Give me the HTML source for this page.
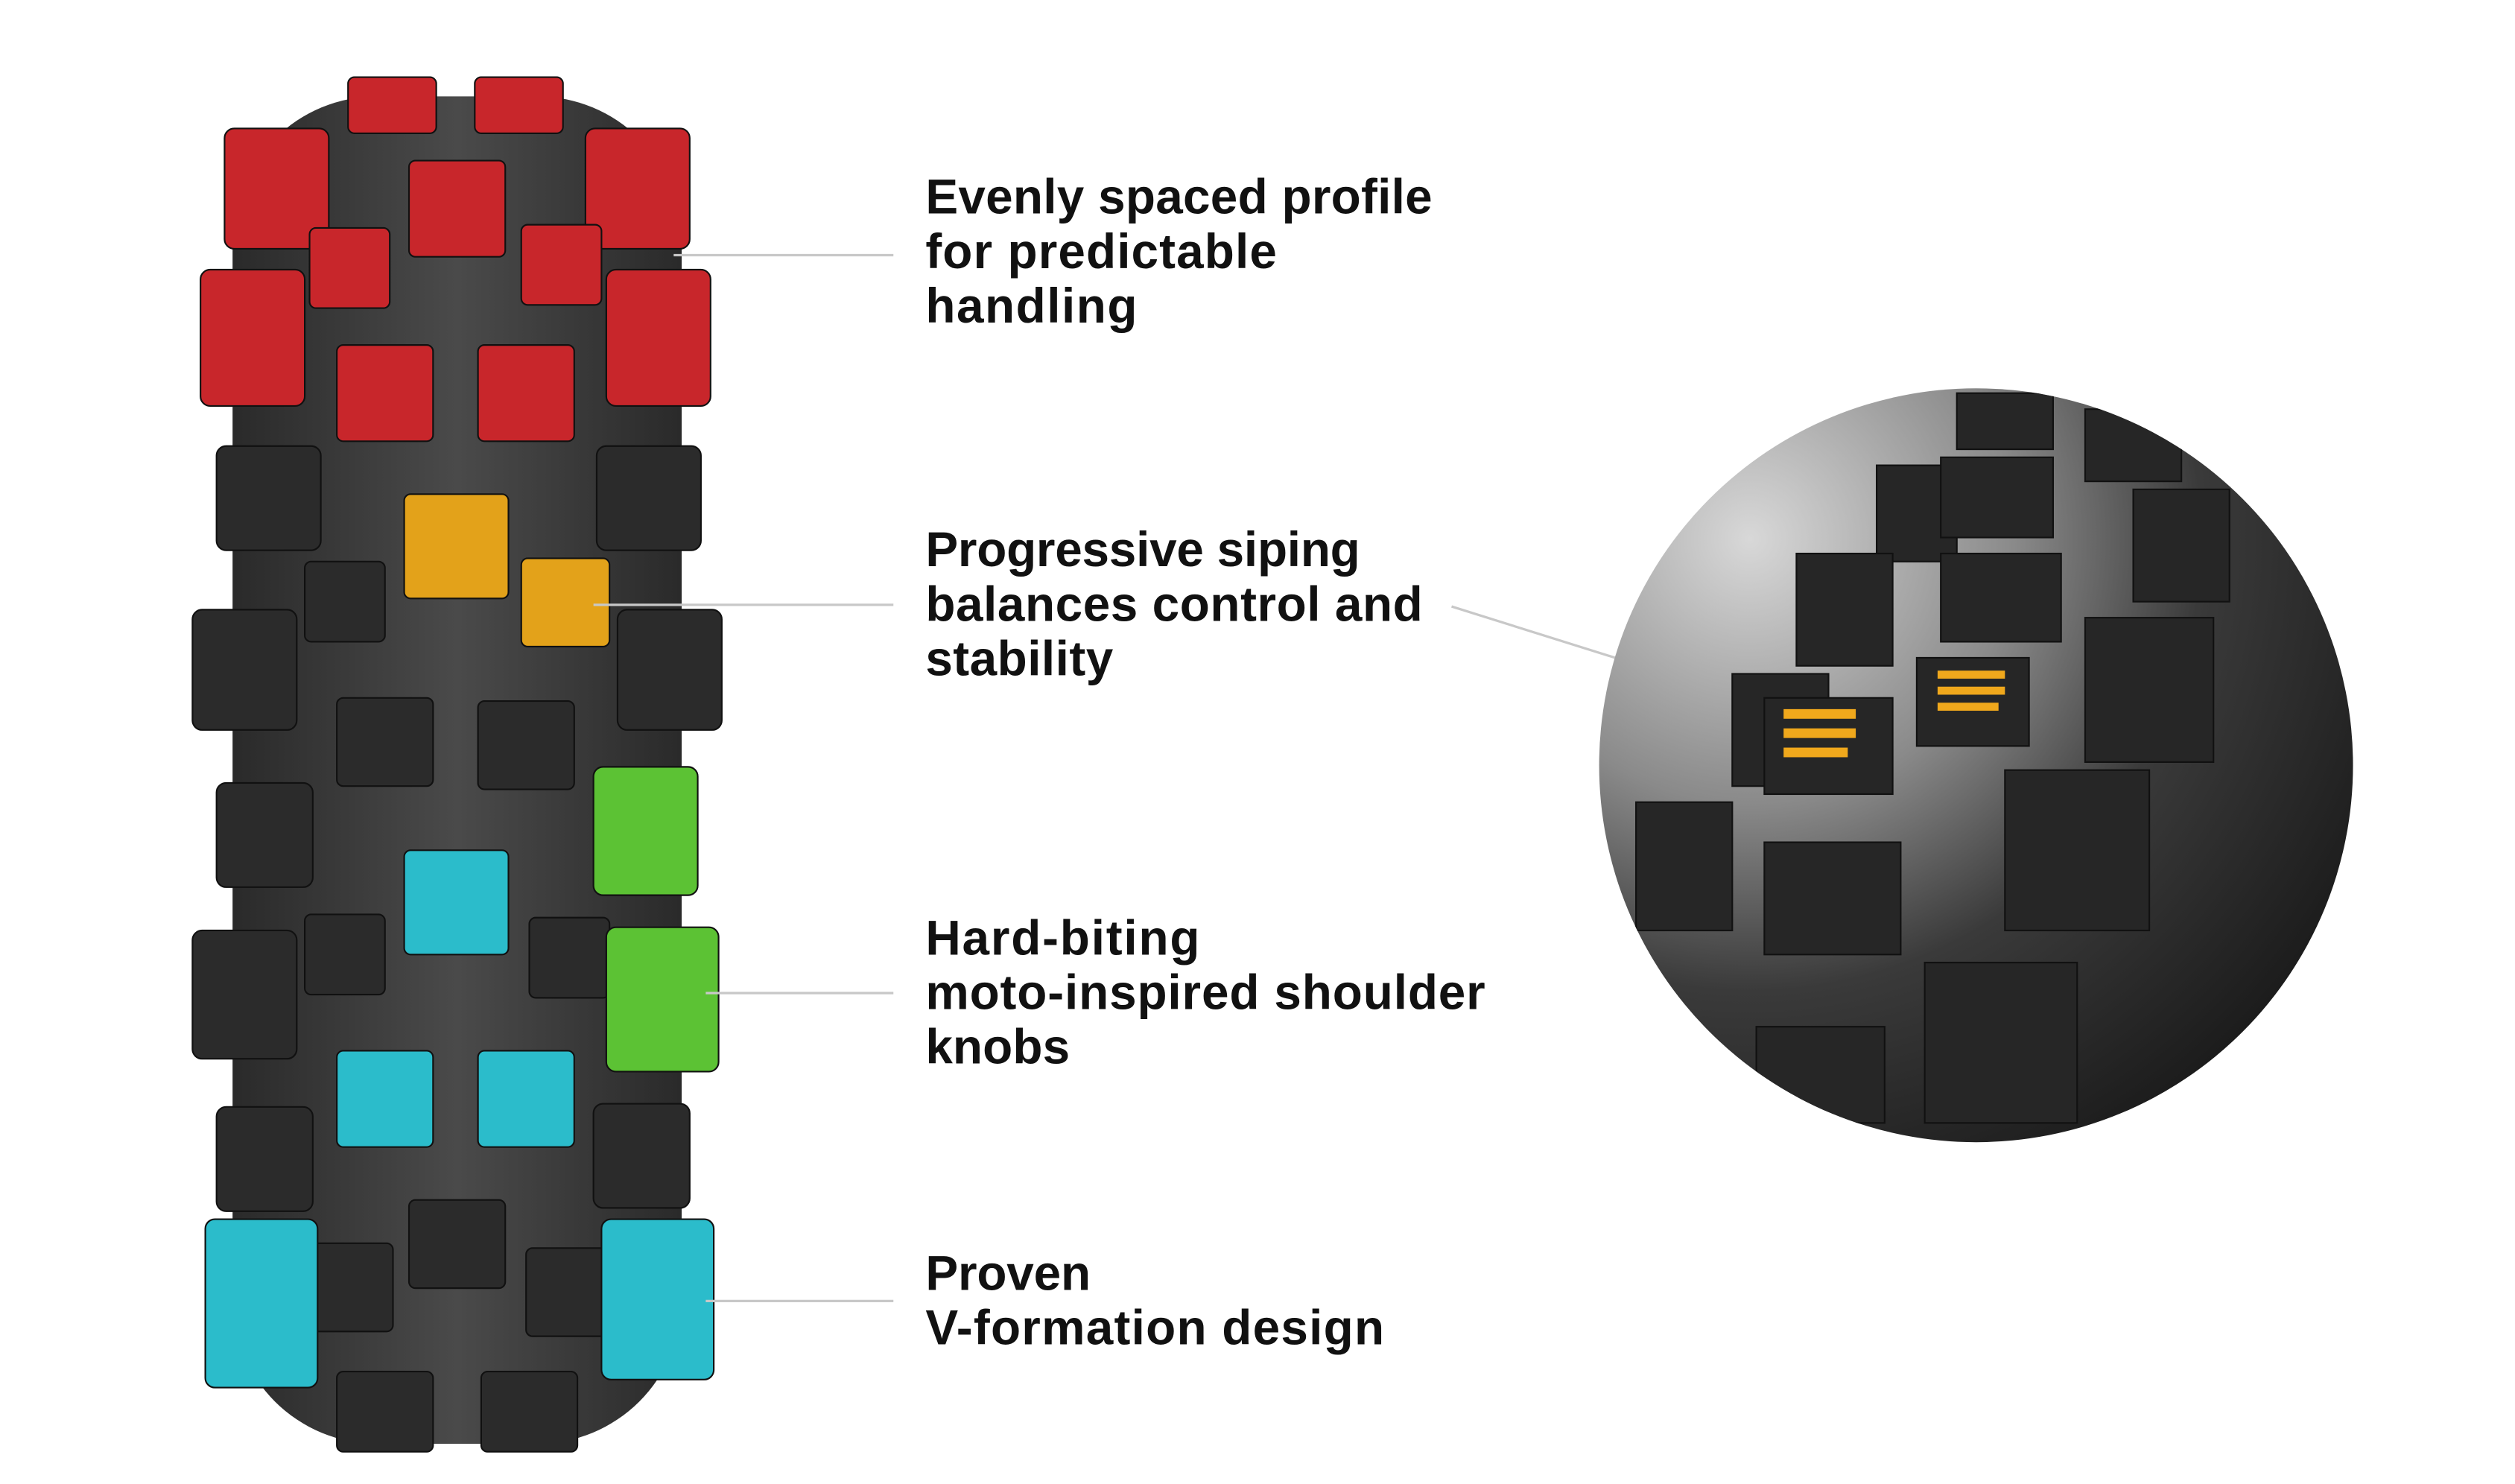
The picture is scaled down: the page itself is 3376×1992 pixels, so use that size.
<!DOCTYPE html>
<html><head><meta charset="utf-8"><style>
html,body{margin:0;padding:0;background:#fff;}
svg{display:block;}
text{font-family:"Liberation Sans",sans-serif;font-weight:bold;font-size:30.5px;fill:#111;}
</style></head><body>
<svg width="3376" height="1992" viewBox="0 0 1568 925" xmlns="http://www.w3.org/2000/svg">
<defs>
<radialGradient id="cg" cx="0.2" cy="0.2" r="1">
<stop offset="0" stop-color="#d8d8d8"/><stop offset="0.35" stop-color="#8a8a8a"/><stop offset="0.6" stop-color="#3a3a3a"/><stop offset="1" stop-color="#151515"/>
</radialGradient>
<linearGradient id="tg" x1="0" x2="1">
<stop offset="0" stop-color="#2a2a2a"/><stop offset="0.5" stop-color="#4a4a4a"/><stop offset="1" stop-color="#2a2a2a"/>
</linearGradient>
<clipPath id="cc"><circle cx="1232" cy="477" r="235"/></clipPath>
</defs>
<rect x="145" y="60" width="280" height="840" rx="90" fill="url(#tg)"/>
<g stroke="#111" stroke-width="1">
<g fill="#c8262b">
<rect x="217" y="48" width="55" height="35" rx="4"/><rect x="296" y="48" width="55" height="35" rx="4"/>
<rect x="140" y="80" width="65" height="75" rx="6"/><rect x="365" y="80" width="65" height="75" rx="6"/>
<rect x="255" y="100" width="60" height="60" rx="4"/>
<rect x="193" y="142" width="50" height="50" rx="4"/><rect x="325" y="140" width="50" height="50" rx="4"/>
<rect x="125" y="168" width="65" height="85" rx="6"/><rect x="378" y="168" width="65" height="85" rx="6"/>
<rect x="210" y="215" width="60" height="60" rx="4"/><rect x="298" y="215" width="60" height="60" rx="4"/>
</g>
<g fill="#2b2b2b">
<rect x="135" y="278" width="65" height="65" rx="6"/><rect x="372" y="278" width="65" height="65" rx="6"/>
<rect x="190" y="350" width="50" height="50" rx="4"/>
<rect x="120" y="380" width="65" height="75" rx="6"/><rect x="385" y="380" width="65" height="75" rx="6"/>
<rect x="210" y="435" width="60" height="55" rx="4"/><rect x="298" y="437" width="60" height="55" rx="4"/>
<rect x="135" y="488" width="60" height="65" rx="6"/>
<rect x="190" y="570" width="50" height="50" rx="4"/><rect x="330" y="572" width="50" height="50" rx="4"/>
<rect x="120" y="580" width="65" height="80" rx="6"/>
<rect x="135" y="690" width="60" height="65" rx="6"/><rect x="370" y="688" width="60" height="65" rx="6"/>
<rect x="255" y="748" width="60" height="55" rx="4"/>
<rect x="195" y="775" width="50" height="55" rx="4"/><rect x="328" y="778" width="50" height="55" rx="4"/>
<rect x="210" y="855" width="60" height="50" rx="4"/><rect x="300" y="855" width="60" height="50" rx="4"/>
</g>
<g fill="#e3a21a"><rect x="252" y="308" width="65" height="65" rx="4"/><rect x="325" y="348" width="55" height="55" rx="4"/></g>
<g fill="#5cc234"><rect x="370" y="478" width="65" height="80" rx="6"/><rect x="378" y="578" width="70" height="90" rx="6"/></g>
<g fill="#2bbccb"><rect x="252" y="530" width="65" height="65" rx="4"/><rect x="210" y="655" width="60" height="60" rx="4"/><rect x="298" y="655" width="60" height="60" rx="4"/>
<rect x="128" y="760" width="70" height="105" rx="6"/><rect x="375" y="760" width="70" height="100" rx="6"/></g>
</g>
<g stroke="#c8c8c8" stroke-width="1.5">
<line x1="420" y1="159" x2="557" y2="159"/><line x1="370" y1="377" x2="557" y2="377"/>
<line x1="440" y1="619" x2="557" y2="619"/><line x1="440" y1="811" x2="557" y2="811"/>
<line x1="905" y1="378" x2="1007" y2="410"/>
</g>
<circle cx="1232" cy="477" r="235" fill="url(#cg)"/>
<g clip-path="url(#cc)" fill="#262626" stroke="#111">
<rect x="1220" y="245" width="60" height="35"/><rect x="1300" y="255" width="60" height="45"/>
<rect x="1170" y="290" width="50" height="60"/><rect x="1210" y="285" width="70" height="50"/>
<rect x="1330" y="305" width="60" height="70"/>
<rect x="1120" y="345" width="60" height="70"/><rect x="1210" y="345" width="75" height="55"/>
<rect x="1300" y="385" width="80" height="90"/>
<rect x="1080" y="420" width="60" height="70"/><rect x="1100" y="435" width="80" height="60"/><rect x="1195" y="410" width="70" height="55"/>
<rect x="1250" y="480" width="90" height="100"/>
<rect x="1020" y="500" width="60" height="80"/><rect x="1100" y="525" width="85" height="70"/>
<rect x="1200" y="600" width="95" height="100"/><rect x="1095" y="640" width="80" height="60"/>
</g>
<g fill="#f0a81c"><rect x="1112" y="442" width="45" height="6"/><rect x="1112" y="454" width="45" height="6"/><rect x="1112" y="466" width="40" height="6"/>
<rect x="1208" y="418" width="42" height="5"/><rect x="1208" y="428" width="42" height="5"/><rect x="1208" y="438" width="38" height="5"/></g>
<text x="577" y="133" textLength="316">Evenly spaced profile</text>
<text x="577" y="167" textLength="219">for predictable</text>
<text x="577" y="201" textLength="132">handling</text>
<text x="577" y="353" textLength="271">Progressive siping</text>
<text x="577" y="387" textLength="310">balances control and</text>
<text x="577" y="421" textLength="117">stability</text>
<text x="577" y="595" textLength="171">Hard-biting</text>
<text x="577" y="629" textLength="349">moto-inspired shoulder</text>
<text x="577" y="663" textLength="90">knobs</text>
<text x="577" y="804" textLength="103">Proven</text>
<text x="577" y="838" textLength="286">V-formation design</text>
</svg>
</body></html>
